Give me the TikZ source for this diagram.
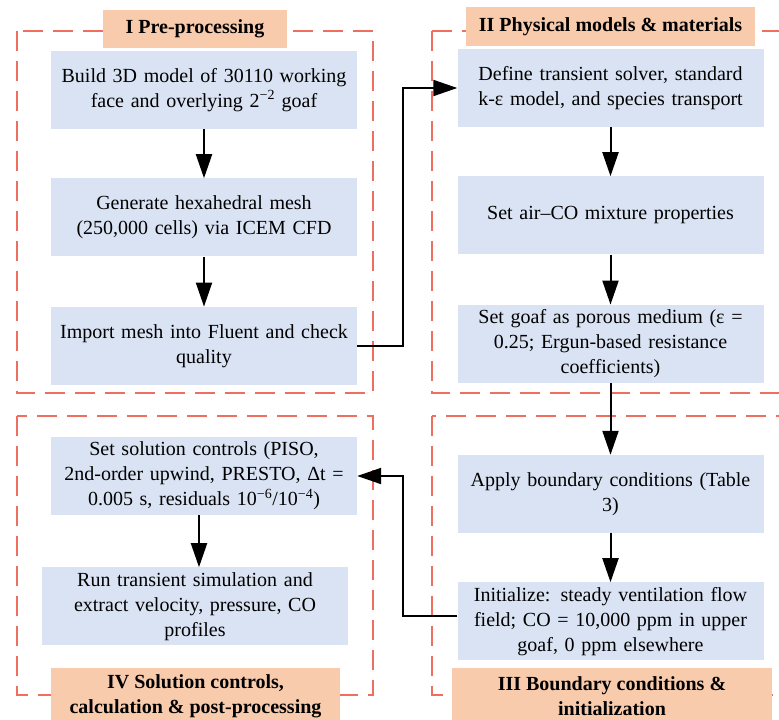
\documentclass[tikz,border=0pt]{standalone}
\usepackage{fontspec}
\setmainfont{Liberation Serif}
\usepackage{xcolor}
\usetikzlibrary{arrows.meta,positioning}

\definecolor{boxblue}{HTML}{DAE3F3}
\definecolor{headpeach}{HTML}{F8CBAD}
\definecolor{panelred}{HTML}{EE6E5F}

\begin{document}
\begin{tikzpicture}[x=1pt, y=-1pt,
    box/.style={rectangle, fill=boxblue, text width=296pt, align=center, minimum width=306pt, minimum height=78pt, inner ysep=1pt, font=\fontsize{20}{25}\selectfont},
    heading/.style={rectangle, fill=headpeach, align=center, inner sep=1pt, font=\fontsize{20}{25}\selectfont\bfseries},
    panel/.style={draw=panelred, line width=2pt, dash pattern=on 20pt off 10pt},
    flow/.style={draw, line width=2pt, -{Triangle[length=24pt, width=16pt]}}
]
    \useasboundingbox (0,0) rectangle (779,720);

    % dashed panels
    \draw[panel] (17,31) rectangle (373,393);
    \draw[panel] (432,31) rectangle (800,393);
    \draw[panel] (17,416) rectangle (373,695);
    \draw[panel] (432,416) rectangle (800,695);

    % I
    \node[box] (pre1) at (204,90) {Build 3D model of 30110 working\\face and overlying 2\textsuperscript{−2} goaf};
    \node[box, below=49pt of pre1] (pre2) {Generate hexahedral mesh\\(250,000 cells) via ICEM CFD};
    \node[box, below=50pt of pre2] (pre3) {Import mesh into Fluent and check\\quality};
    \node[heading, minimum width=184pt, minimum height=38pt] (tpre) at (195,29) {I Pre-processing};

    % II
    \node[box] (phys1) at (610.5,88) {Define transient solver, standard\\k-ε model, and species transport};
    \node[box, below=49pt of phys1] (phys2) {Set air–CO mixture properties};
    \node[box, below=50pt of phys2] (phys3) {Set goaf as porous medium (ε =\\0.25; Ergun-based resistance\\coefficients)};
    \node[heading, minimum width=289pt, minimum height=39pt] (tphys) at (610.5,26.5) {II Physical models \& materials};

    % III
    \node[box] (bc1) at (610.5,494) {Apply boundary conditions (Table\\3)};
    \node[box, below=49pt of bc1] (bc2) {Initialize: steady ventilation flow\\field; CO = 10,000 ppm in upper\\goaf, 0 ppm elsewhere};
    \node[heading, minimum width=320pt, minimum height=56pt] (tbc) at (612,696) {III Boundary conditions \&\\initialization};

    % IV
    \node[box] (sol1) at (204,476) {Set solution controls (PISO,\\2nd-order upwind, PRESTO, Δt =\\0.005 s, residuals 10\textsuperscript{−6}/10\textsuperscript{−4})};
    \node[box, below=52pt of sol1, xshift=-9pt] (sol2) {Run transient simulation and\\extract velocity, pressure, CO\\profiles};
    \node[heading, minimum width=289pt, minimum height=56pt] (tsol) at (195.5,696) {IV Solution controls,\\calculation \& post-processing};

    % connectors
    \draw[flow] (pre1) -- (pre2);
    \draw[flow] (pre2) -- (pre3);
    \draw[flow] (pre3.east) -- ++(46pt,0) |- (phys1.west);
    \draw[flow] (phys1) -- (phys2);
    \draw[flow] (phys2) -- (phys3);
    \draw[flow] (phys3) -- (bc1);
    \draw[flow] (bc1) -- (bc2);
    \draw[flow] (bc2.west) ++(0,5pt) -- ++(-54pt,0) |- (sol1.east);
    \draw[flow] (sol1.south -| 199,0) -- (sol2.north -| 199,0);
\end{tikzpicture}
\end{document}
